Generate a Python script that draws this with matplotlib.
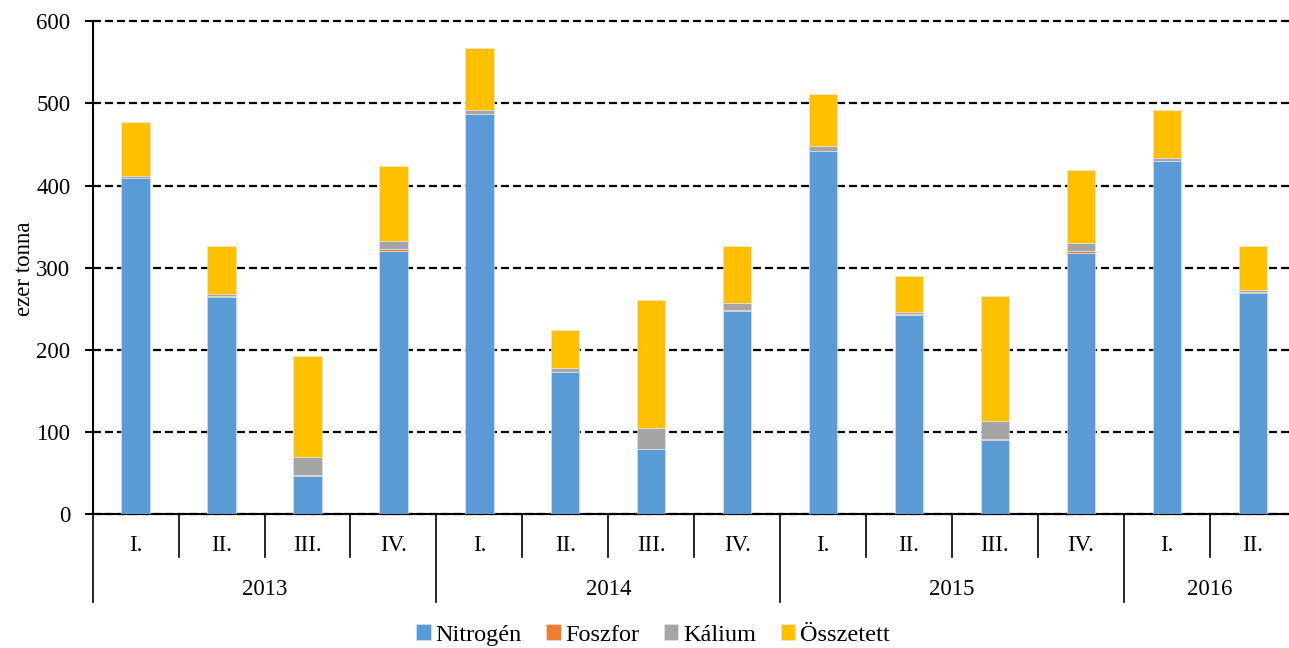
import numpy as np
import matplotlib.pyplot as plt
import matplotlib.transforms as mtransforms

plt.rcParams['font.family'] = ['Liberation Serif', 'DejaVu Serif']

# --- DATA (ezer tonna) ---
years = ['2013', '2014', '2015', '2016']
quarters = ['I.', 'II.', 'III.', 'IV.',
            'I.', 'II.', 'III.', 'IV.',
            'I.', 'II.', 'III.', 'IV.',
            'I.', 'II.']
quarter_year = [0, 0, 0, 0, 1, 1, 1, 1, 2, 2, 2, 2, 3, 3]

nitrogen = [409, 265, 46.5, 321, 487, 173, 79, 247, 442, 243, 90, 318, 430, 269.5]
foszfor = [0.5, 0.5, 1.5, 2.0, 0.5, 0.5, 1.0, 2.0, 0.5, 0.5, 2.0, 2.5, 0.5, 0.5]
kalium = [2.5, 2.5, 22, 10, 4, 4.5, 25, 8, 5.5, 3, 22, 10, 3, 3]
osszetett = [65, 58.5, 122.5, 90.5, 75.5, 46.5, 155.5, 69.5, 63, 43.5, 151.5, 88.5, 58.5, 53.5]

series = [('Nitrogén', nitrogen, '#5B9BD5'),
          ('Foszfor', foszfor, '#ED7D31'),
          ('Kálium', kalium, '#A5A5A5'),
          ('Összetett', osszetett, '#FFC000')]

fig = plt.figure(figsize=(12.89, 6.48), dpi=100)
# axes runs a little past the right edge, as in the cropped original
ax = fig.add_axes([0.0719, 0.2063, 0.9333, 0.7608])

x = np.arange(len(quarters))
bottom = np.zeros(len(quarters))
for name, vals, col in series:
    vals = np.array(vals, dtype=float)
    ax.bar(x, vals, width=0.33, bottom=bottom, color=col, label=name,
           edgecolor='#dfe8f3', linewidth=0.4, zorder=3)
    bottom += vals

ax.set_xlim(-0.5, len(quarters) - 0.5)
ax.set_ylim(0, 600)
ax.set_yticks(np.arange(0, 601, 100))
ax.yaxis.grid(True, color='black', linestyle=(0, (3.6, 1.8)), linewidth=1.6, zorder=0)
ax.set_axisbelow(True)
# keep the top (600) gridline at full thickness
for gl in ax.get_ygridlines():
    gl.set_clip_on(False)

for s in ['top', 'right']:
    ax.spines[s].set_visible(False)
ax.spines['left'].set_linewidth(1.5)
ax.spines['bottom'].set_linewidth(1.5)
ax.tick_params(axis='y', direction='out', length=6, width=1.5, pad=10, labelsize=16.5)
ax.set_xticks([])

# multi-level category axis
trans = mtransforms.blended_transform_factory(ax.transData, ax.transAxes)
for i in range(len(quarters) + 1):
    xb = i - 0.5
    is_year_edge = i == 0 or i == len(quarters) or quarter_year[i] != quarter_year[i - 1]
    y_end = -0.177 if is_year_edge else -0.0866
    ax.plot([xb, xb], [0, y_end], color='black', lw=1.2, transform=trans, clip_on=False)

for i, q in enumerate(quarters):
    ax.text(i, -0.064, q, transform=trans, ha='center', va='center', fontsize=16.5)

for yi, yr in enumerate(years):
    idx = [i for i, v in enumerate(quarter_year) if v == yi]
    ax.text(np.mean(idx), -0.153, yr, transform=trans, ha='center', va='center', fontsize=16.5)

fig.text(25 / 1289, 0.586, 'ezer tonna', rotation=90, ha='center', va='center', fontsize=16.5)

fig.legend(loc='center', bbox_to_anchor=(653 / 1289, 13 / 648), ncol=4, frameon=False,
           fontsize=17.5, handlelength=0.6, handleheight=0.6, handletextpad=0.2,
           columnspacing=1.0)

fig.savefig('out.png', dpi=100)
